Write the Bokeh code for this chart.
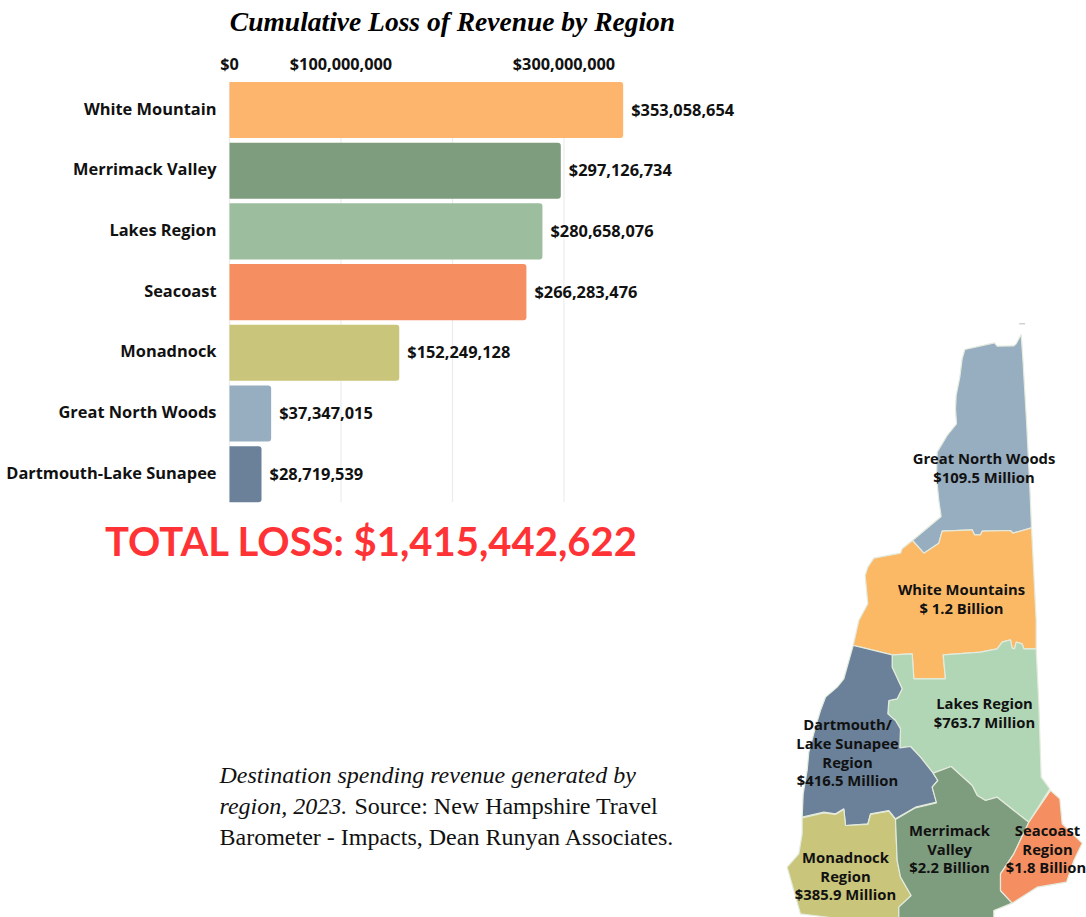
from bokeh.plotting import figure
from bokeh.models import Range1d, LinearAxis, FixedTicker, NumeralTickFormatter
from bokeh.core.properties import value
from bokeh.embed import file_html
from bokeh.resources import INLINE

categories = ["White Mountain", "Merrimack Valley", "Lakes Region", "Seacoast",
              "Monadnock", "Great North Woods", "Dartmouth-Lake Sunapee"]
revenue = [353058654, 297126734, 280658076, 266283476, 152249128, 37347015, 28719539]
bar_colors = ["#fdb46d", "#7e9c7e", "#9cbe9f", "#f58f61", "#c9c57a", "#97adc0", "#6a8199"]
tick_values = [0, 100000000, 300000000]
grid_values = [0, 100000000, 200000000, 300000000]

title_text = "Cumulative Loss of Revenue by Region"
total_text = "TOTAL LOSS: $1,415,442,622"
note_italic = ["Destination spending revenue generated by", "region, 2023."]
note_plain = ["Source: New Hampshire Travel", "Barometer - Impacts, Dean Runyan Associates."]

# Map outlines, in map units (1 unit = 1/3 px)
gnw_x = [722,707,700,650,642,553,545,538,527,525,528,500,470,468,475,482,396,430,475,485,575,582,600,605,690,697,753,748,738,728]
gnw_y = [-858,-830,-824,-823,-833,-813,-785,-730,-675,-635,-590,-555,-505,-430,-360,-312,-240,-202,-232,-268,-272,-257,-257,-268,-270,-262,-278,-400,-600,-770]
wm_x = [753,697,690,605,600,582,575,485,475,430,396,365,360,280,262,254,262,235,218,240,335,395,400,495,488,600,650,665,690,695,702,707,725,730,767,767]
wm_y = [-278,-262,-270,-268,-257,-257,-272,-268,-232,-202,-240,-215,-202,-187,-160,-135,-50,0,75,80,103,100,175,175,103,95,85,65,58,83,85,65,70,85,85,0]
lakes_x = [335,395,400,495,488,600,650,665,690,695,702,707,725,730,767,775,782,808,745,700,650,615,590,575,512,458,420,390,358,360,345,322,325,350,365,335]
lakes_y = [103,100,175,175,103,95,85,65,58,83,85,65,70,85,85,250,470,505,605,570,530,540,525,495,438,458,410,378,382,325,300,280,240,235,205,140]
dart_x = [218,240,335,335,365,350,325,322,345,360,358,390,420,458,472,455,468,405,345,325,270,262,195,190,165,130,65,68,80,85,105,120,135,170,190]
dart_y = [75,80,103,140,205,235,240,280,300,325,382,378,410,458,480,500,545,560,595,570,580,610,615,565,580,575,590,520,450,395,320,270,230,200,175]
mona_x = [65,130,165,190,195,262,270,325,345,350,360,392,355,355,150,60,20,55,65]
mona_y = [592,577,582,567,615,612,582,572,597,720,770,825,860,891,891,880,740,700,640]
merr_x = [458,512,575,590,615,650,700,745,700,660,660,695,640,640,355,355,392,360,350,345,405,468,455,472]
merr_y = [458,438,495,525,540,530,570,605,700,760,810,848,870,891,891,860,825,770,720,597,562,547,500,480]
sea_x = [810,838,845,905,880,858,770,695,660,660,700,745]
sea_y = [510,535,610,668,720,785,800,848,810,760,700,605]
map_colors = ["#97adc0", "#fbb966", "#b1d6b6", "#6a8199", "#c9c57a", "#7e9c7e", "#f58f61"]
speck_x = [716, 734]
speck_y = [-890, -890]

map_label_lines = ["Great North Woods", "$109.5 Million", "White Mountains", "$ 1.2 Billion",
                   "Lakes Region", "$763.7 Million", "Dartmouth/", "Lake Sunapee", "Region", "$416.5 Million",
                   "Merrimack", "Valley", "$2.2 Billion", "Seacoast", "Region", "$1.8 Billion",
                   "Monadnock", "Region", "$385.9 Million"]
map_label_x = [983.5,983.5,961,961,984,984,847,847,847,847,949,949,949,1047,1047,1045.5,845,845,845]
map_label_y = [459,478,590,609,704,723,725,744,763,781,831,850,868,831,850,868,858,877,895]

W, H = 1086, 917
PX_PER_UNIT = 1.115e-6   # pixels per dollar
ROW = 60.7
x0_px, y0_px = 229, 109.5
CAT_SHIFT = 2 / ROW

p = figure(width=W, height=H, output_backend="svg", toolbar_location=None,
           x_range=Range1d(-x0_px / PX_PER_UNIT, (W - x0_px) / PX_PER_UNIT),
           y_range=Range1d((H - y0_px) / ROW, -y0_px / ROW),
           min_border=0, outline_line_color=None, x_axis_type=None, y_axis_type=None)
p.xgrid.visible = False
p.ygrid.visible = False
p.background_fill_color = "white"

p.extra_x_ranges = {"px": Range1d(0, 1086), "map": Range1d(-2340, 918)}
p.extra_y_ranges = {"px": Range1d(917, 0), "map": Range1d(891, -1860),
                    "cat": Range1d((H - y0_px) / ROW + CAT_SHIFT, -y0_px / ROW + CAT_SHIFT)}

# grid
p.segment(x0=grid_values, x1=grid_values, y0=[-0.46] * 4, y1=[6.46] * 4,
          line_color="#ececec", line_width=1.2)

# bars
p.hbar(y=list(range(7)), left=0, right=revenue, height=0.925, fill_color=bar_colors,
       line_color=None, border_radius=(0, 3, 3, 0))

# axes
xax = LinearAxis(ticker=FixedTicker(ticks=tick_values), formatter=NumeralTickFormatter(format="$0,0"),
                 axis_line_color=None, major_tick_line_color=None, minor_tick_line_color=None,
                 major_label_text_font="Open Sans", major_label_text_font_style="bold",
                 major_label_text_font_size="16.3px", major_label_text_color="#111111",
                 major_label_standoff=0, fixed_location=-0.48)
p.add_layout(xax, "above")
yax = LinearAxis(y_range_name="cat", ticker=FixedTicker(ticks=list(range(7))),
                 major_label_overrides={i: c for i, c in enumerate(categories)},
                 axis_line_color=None, major_tick_line_color=None, minor_tick_line_color=None,
                 major_label_text_font="Open Sans", major_label_text_font_style="bold",
                 major_label_text_font_size="16.4px", major_label_text_color="#111111",
                 major_label_standoff=7, fixed_location=0)
p.add_layout(yax, "left")

# bar values
p.text(x=revenue, y=list(range(7)), text=[f"${v:,}" for v in revenue], x_offset=8, y_offset=-1,
       text_font=value("Open Sans"), text_font_style="bold", text_font_size="16.4px",
       text_color="#111111", text_align="left", text_baseline="middle")

# title, total, note
px = dict(x_range_name="px", y_range_name="px")
p.text(x=[452], y=[21], text=[title_text], text_font=value("Liberation Serif"),
       text_font_style="bold italic", text_font_size="27.5px", text_color="#000000",
       text_align="center", text_baseline="middle", **px)
p.text(x=[371], y=[540], text=[total_text], text_font=value("Lato"), text_font_style="bold",
       text_font_size="40px", text_color="#ff3336", text_align="center", text_baseline="middle", **px)
p.text(x=[219, 219], y=[774, 805], text=note_italic, text_font=value("Liberation Serif"),
       text_font_style="italic", text_font_size="24px", text_color="#111111",
       text_align="left", text_baseline="middle", **px)
p.text(x=[354, 219], y=[805, 836], text=note_plain, text_font=value("Liberation Serif"),
       text_font_size="24px", text_color="#111111",
       text_align="left", text_baseline="middle", **px)

# map
mp = dict(x_range_name="map", y_range_name="map")
p.patches(xs=[gnw_x, wm_x, lakes_x, dart_x, mona_x, merr_x, sea_x],
          ys=[gnw_y, wm_y, lakes_y, dart_y, mona_y, merr_y, sea_y],
          fill_color=map_colors, line_color="#e4ebdd", line_width=1.2, **mp)
p.line(x=speck_x, y=speck_y, line_color="#bbbbbb", line_width=1, **mp)
p.text(x=map_label_x, y=map_label_y, text=map_label_lines, y_offset=-2, text_font=value("Open Sans"),
       text_font_style="bold", text_font_size="14.8px", text_color="#111111",
       text_align="center", text_baseline="middle", **px)

open("out.html", "w").write(file_html(p, INLINE))
